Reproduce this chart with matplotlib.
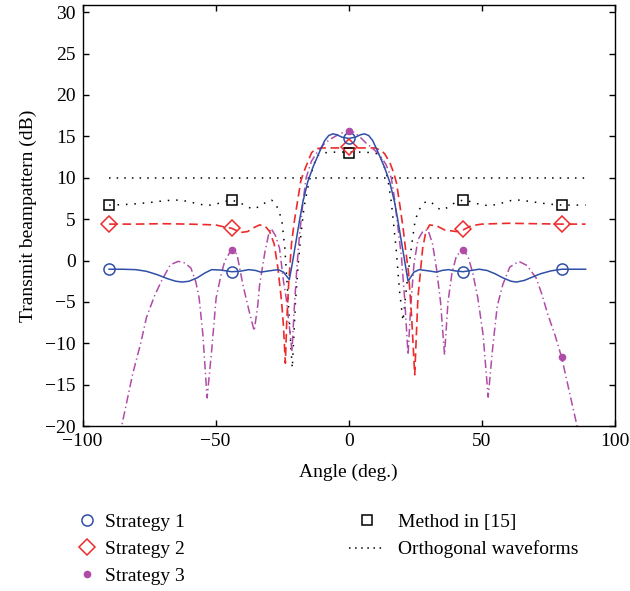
import matplotlib
matplotlib.use("Agg")
import matplotlib.pyplot as plt
from matplotlib.lines import Line2D

plt.rcParams['font.family'] = ['Liberation Serif', 'DejaVu Serif']
plt.rcParams['font.size'] = 14

# Strategy 1 (blue, solid)
s1_x = [-90, -85, -80, -76, -72, -68, -65, -62.5, -60, -57, -54, -51.5, -48, -44, -41, -37.5,
        -35, -33, -30, -26.5, -24.5, -22.3, -21, -19.8, -18.5, -17.2, -15.4, -13.4, -11, -9,
        -7.5, -6, -4.5, -2.5, 0, 2.5, 4.5, 6, 7.5, 9, 11, 13.4, 15.4, 17.2, 18.5, 19.8, 21,
        22.3, 24.5, 26.5, 30, 33, 35, 37.5, 40, 43, 46, 49, 52, 55, 58, 61, 63, 66, 69, 72,
        76, 80, 84, 89]
s1_y = [-1.05, -1.05, -1.1, -1.3, -1.7, -2.2, -2.5, -2.6, -2.5, -2.1, -1.5, -1.1, -1.15, -1.35,
        -1.3, -1.1, -1.2, -1.4, -1.25, -1.1, -1.4, -2.3, 0.0, 2.3, 4.8, 7.1, 9.5, 11.3, 13.1,
        14.5, 15.1, 15.3, 15.2, 14.9, 14.75, 14.9, 15.2, 15.3, 15.1, 14.5, 13.1, 11.3, 9.5,
        7.1, 4.8, 2.3, 0.0, -2.5, -1.4, -1.1, -1.25, -1.4, -1.2, -1.1, -1.25, -1.35, -1.2,
        -1.05, -1.2, -1.6, -2.1, -2.5, -2.6, -2.4, -2.0, -1.6, -1.25, -1.05, -1.05, -1.05]

# Strategy 2 (red, dashed)
s2_x = [-90, -80, -70, -60, -50, -46, -44, -42, -40.4, -38, -35.5, -33.5, -31.5, -29.7, -28,
        -26.6, -25.2, -24.5, -23.8, -23.3, -22.5, -21.5, -20.4, -19.3, -18, -17, -15.5, -14,
        -12.5, -10, -5, 0, 5, 10, 12.2, 13.5, 15.5, 17, 18, 19.3, 20.4, 21.5, 22.5, 23.6,
        24.8, 26, 27.8, 29, 30.4, 33, 36, 40.4, 43, 46, 50, 60, 70, 80, 89]
s2_y = [4.4, 4.4, 4.45, 4.4, 4.3, 4.0, 3.9, 3.6, 3.4, 3.5, 4.0, 4.3, 4.2, 3.5, 2.0, -0.9, -5.0,
        -8.0, -12.4, -7.5, -2.5, 2.0, 4.8, 7.0, 9.6, 10.6, 11.8, 13.0, 13.5, 13.6, 13.6, 13.6,
        13.6, 13.6, 13.3, 12.9, 11.8, 10.5, 9.3, 6.5, 4.0, 1.0, -1.5, -6.6, -13.8, -4.5, 1.5,
        3.5, 4.3, 4.2, 3.7, 3.5, 3.7, 4.2, 4.4, 4.5, 4.45, 4.4, 4.4]

# Strategy 3 (purple, dash-dot)
s3_x = [-90, -87, -85.3, -83, -81.2, -78, -76, -73, -70.4, -67, -64, -61.5, -59.3, -57.5, -56.2,
        -54.8, -53.2, -51.5, -49.8, -48, -46.6, -44.2, -42, -39.7, -37.5, -35.5, -34.2, -33.5,
        -31.5, -30.2, -29.2, -27.5, -26, -24.5, -23.5, -22.3, -21.3, -20.5, -19.5, -18.5,
        -17.2, -16, -14, -12, -9.5, -7.2, -4, -2, 0, 2, 4, 6.5, 9.5, 12, 14, 16, 17.2, 18.5,
        19.8, 21, 22.3, 23.3, 24.5, 26, 28, 29.8, 31.5, 33, 34.5, 36, 37.3, 38.8, 40.5, 43.2,
        45, 46.6, 48.5, 50.5, 52.4, 54.1, 55.8, 57.9, 60.5, 63.9, 67, 70.4, 72.5, 74.8, 77.5,
        80, 83, 85.8, 88, 89]
s3_y = [-27, -22.5, -20, -16.5, -13.75, -9.8, -6.9, -4.3, -2.5, -0.5, -0.1, -0.3, -0.9, -2.5,
        -4.5, -8.9, -16.6, -10.9, -4.5, -1.8, -0.1, 1.25, 0.8, -3.0, -6.0, -8.5, -5.5, -3.0,
        1.0, 3.0, 3.9, 3.0, 1.5, -2.5, -4.5, -8.0, -11.0, -6.0, -1.0, 3.0, 7.0, 10.0, 12.0,
        13.0, 14.0, 14.6, 15.2, 15.5, 15.6, 15.5, 15.0, 14.2, 13.4, 12.6, 11.6, 10.0, 7.5,
        4.0, 0.5, -4.5, -11.4, -5.5, -0.5, 2.5, 3.6, 3.7, 2.0, -1.0, -5.0, -11.4, -5.0, -1.5,
        0.6, 1.3, 0.3, -1.5, -4.5, -9.0, -16.5, -10.5, -5.5, -2.9, -0.8, -0.1, -0.6, -2.1,
        -4.0, -6.5, -9.0, -11.7, -16.0, -20.0, -23.5, -25.0]

# Method in [15] (black, dotted)
m15_x = [-90, -85, -80, -75, -70, -66, -63, -60, -56, -53, -50, -47, -44, -41, -38, -36, -33,
         -30.5, -29, -27.5, -26, -25, -24, -22.8, -21.8, -21.2, -20.6, -20, -19, -18, -16.8,
         -15.5, -14.5, -13, -11.6, -10, -5, 0, 5, 10, 11.6, 13, 14.6, 16, 17.8, 19.1, 20.4,
         21.8, 23.5, 24.8, 26, 28, 29.6, 31.5, 33.5, 35.5, 38, 40.5, 43, 46, 49, 53, 57, 61,
         64, 68, 72, 76, 80, 85, 89]
m15_y = [6.7, 6.75, 6.85, 7.0, 7.2, 7.3, 7.3, 7.1, 6.8, 6.65, 6.8, 7.1, 7.3, 7.0, 6.5, 6.2, 6.6,
         7.2, 7.3, 6.9, 5.8, 4.5, 1.5, -4.5, -10.0, -13.0, -9.0, -5.0, -0.5, 3.0, 6.4, 8.6,
         10.0, 11.7, 12.7, 13.0, 13.1, 13.1, 13.1, 13.0, 12.7, 11.7, 10.0, 7.1, 1.5, -3.7,
         -7.3, -3.0, 1.5, 4.5, 5.9, 6.9, 7.2, 6.9, 6.3, 6.1, 6.6, 7.1, 7.3, 7.1, 6.8, 6.6,
         6.9, 7.25, 7.3, 7.15, 6.95, 6.8, 6.7, 6.7, 6.7]

# Orthogonal waveforms
orth_x = [-90, 89]
orth_y = [10, 10]

# marker positions and values
mk_x = [-90, -44, 0, 43, 80]
s1_mk = [-1.05, -1.35, 14.8, -1.35, -1.05]
s2_mk = [4.4, 3.9, 13.7, 3.75, 4.4]
s3_mk = [-27, 1.25, 15.6, 1.3, -11.7]
m15_mk = [6.7, 7.3, 13.0, 7.3, 6.7]

blue = '#2f4fa8'
red = '#ee2a2a'
purple = '#b04ca8'

fig = plt.figure(figsize=(6.3, 5.91), dpi=100)
ax = fig.add_axes([0.131, 0.279, 0.845, 0.713])

ax.plot(orth_x, orth_y, color='black', lw=1.1, dashes=(1, 4))
ax.plot(m15_x, m15_y, color='black', lw=1.1, dashes=(1, 4.5))
ax.plot(s3_x, s3_y, color=purple, lw=1.1, dashes=(5.5, 2.2, 0.9, 2.2))
ax.plot(s2_x, s2_y, color=red, lw=1.2, dashes=(5.2, 2.8))
ax.plot(s1_x, s1_y, color=blue, lw=1.1)

ax.plot(mk_x, m15_mk, ls='none', marker='s', ms=7, mfc='none', mec='black', mew=1.1)
ax.plot(mk_x, s2_mk, ls='none', marker='D', ms=8, mfc='none', mec=red, mew=1.1)
ax.plot(mk_x, s1_mk, ls='none', marker='o', ms=8, mfc='none', mec=blue, mew=1.1)
ax.plot(mk_x, s3_mk, ls='none', marker='o', ms=4.5, mfc=purple, mec=purple)

ax.set_xlim(-100, 100)
ax.set_ylim(-20, 30.9)
ax.set_xticks([-100, -50, 0, 50, 100])
ax.set_yticks(list(range(-20, 31, 5)))
ax.tick_params(direction='in', top=True, right=True, length=4, width=1, labelsize=14, pad=5)
for sp in ax.spines.values():
    sp.set_linewidth(1.0)
ax.set_xlabel('Angle (deg.)', fontsize=14, labelpad=10)
ax.set_ylabel('Transmit beampattern (dB)', fontsize=14, labelpad=6)

h1 = [Line2D([], [], ls='none', marker='o', ms=8, mfc='none', mec=blue, mew=1.1),
      Line2D([], [], ls='none', marker='D', ms=8, mfc='none', mec=red, mew=1.1),
      Line2D([], [], ls='none', marker='o', ms=4.5, mfc=purple, mec=purple)]
fig.legend(h1, ['Strategy 1', 'Strategy 2', 'Strategy 3'], loc='upper left',
           bbox_to_anchor=(0.123, 0.131), frameon=False, handlelength=1.0,
           handletextpad=0.4, labelspacing=0.48, borderpad=0, borderaxespad=0, fontsize=14)
h2 = [Line2D([], [], ls='none', marker='s', ms=7, mfc='none', mec='black', mew=1.1),
      Line2D([], [], color='black', lw=1.1, dashes=(1, 3))]
fig.legend(h2, ['Method in [15]', 'Orthogonal waveforms'], loc='upper left',
           bbox_to_anchor=(0.554, 0.131), frameon=False, handlelength=1.8,
           handletextpad=0.7, labelspacing=0.48, borderpad=0, borderaxespad=0, fontsize=14)

fig.savefig('out.png', dpi=100)
